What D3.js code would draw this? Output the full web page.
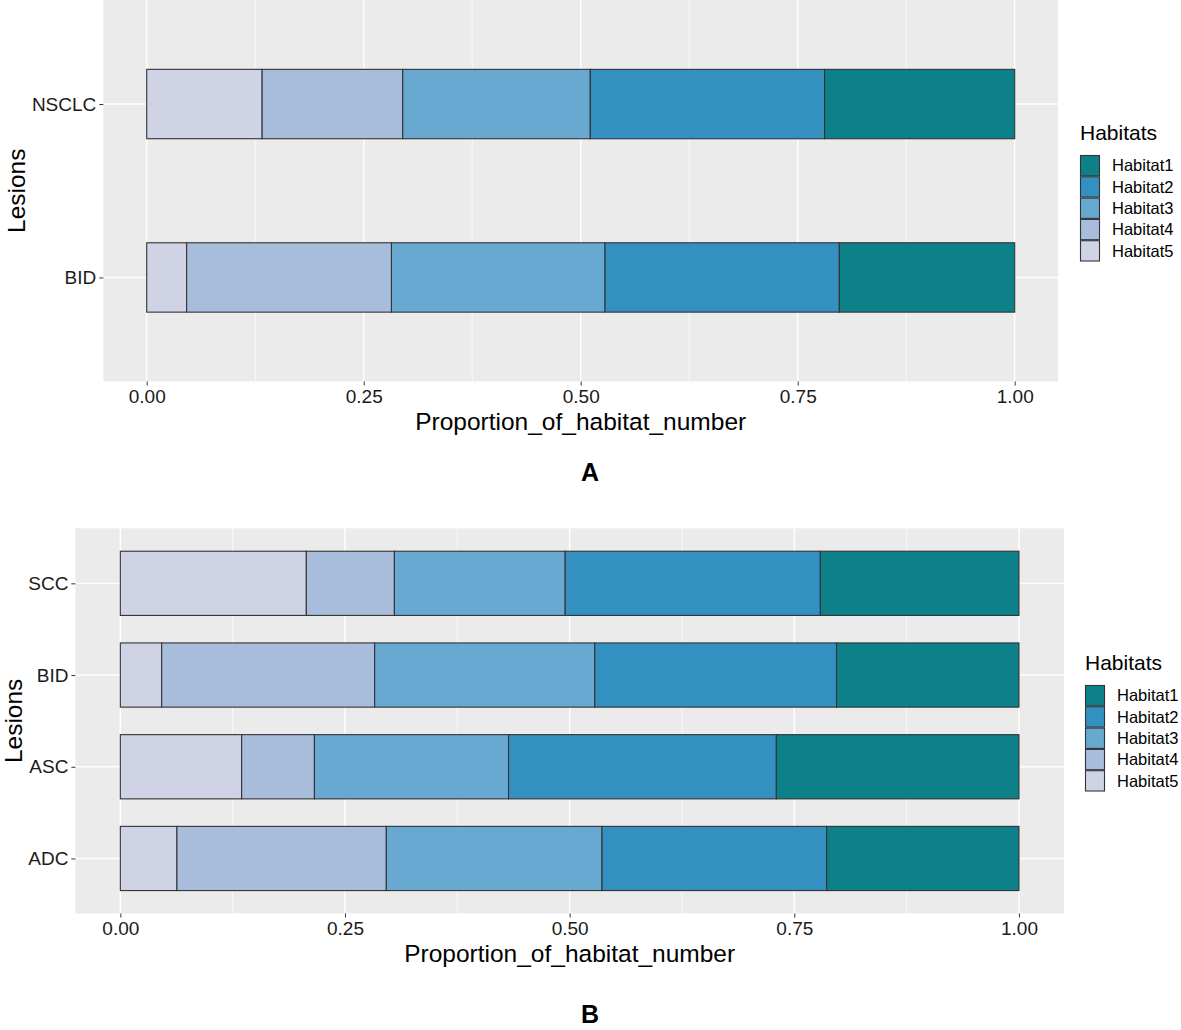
<!DOCTYPE html>
<html>
<head>
<meta charset="utf-8">
<script src="https://cdn.jsdelivr.net/npm/d3@7"></script>
<style>
  html, body { margin: 0; padding: 0; background: #fff; }
  svg { display: block; font-family: "Liberation Sans", Arial, sans-serif; }
</style>
</head>
<body>
<svg id="chart" width="1181" height="1030"></svg>
<script>
// ---------- DATA ----------
const habitats = ["Habitat1", "Habitat2", "Habitat3", "Habitat4", "Habitat5"];
const habitatColors = ["#0c8189", "#3490c1", "#67a9d0", "#a7bddb", "#d0d2e6"];
const xTicks = [0, 0.25, 0.5, 0.75, 1];
const xTickLabels = ["0.00", "0.25", "0.50", "0.75", "1.00"];

// Panel A (bottom -> top)
const lesionsA = ["BID", "NSCLC"];
const habitat1A = [0.202, 0.219];
const habitat2A = [0.270, 0.270];
const habitat3A = [0.246, 0.216];
const habitat4A = [0.236, 0.162];
const habitat5A = [0.046, 0.133];

// Panel B (bottom -> top)
const lesionsB = ["ADC", "ASC", "BID", "SCC"];
const habitat1B = [0.214, 0.270, 0.203, 0.221];
const habitat2B = [0.250, 0.298, 0.269, 0.284];
const habitat3B = [0.240, 0.216, 0.245, 0.190];
const habitat4B = [0.233, 0.081, 0.237, 0.098];
const habitat5B = [0.063, 0.135, 0.046, 0.207];

function buildRows(lesions, h1, h2, h3, h4, h5) {
  return lesions.map((l, i) => ({
    lesion: l, Habitat1: h1[i], Habitat2: h2[i], Habitat3: h3[i], Habitat4: h4[i], Habitat5: h5[i]
  }));
}
const rowsA = buildRows(lesionsA, habitat1A, habitat2A, habitat3A, habitat4A, habitat5A);
const rowsB = buildRows(lesionsB, habitat1B, habitat2B, habitat3B, habitat4B, habitat5B);

const svg = d3.select("#chart");
const color = d3.scaleOrdinal().domain(habitats).range(habitatColors);

function drawPanel(cfg) {
  const g = svg.append("g");
  const x = d3.scaleLinear().domain([-0.05, 1.05]).range([cfg.left, cfg.right]);
  const y = d3.scalePoint().domain(cfg.rows.map(d => d.lesion).reverse())
    .range([cfg.top, cfg.bottom]).padding(0.6);
  const barH = y.step() * cfg.barWidth;

  // background
  g.append("rect").attr("x", cfg.left).attr("y", cfg.top)
    .attr("width", cfg.right - cfg.left).attr("height", cfg.bottom - cfg.top)
    .attr("fill", "#ebebeb");

  // minor grid
  const minor = [0.125, 0.375, 0.625, 0.875];
  g.selectAll(".minor").data(minor).enter().append("line")
    .attr("x1", d => x(d)).attr("x2", d => x(d))
    .attr("y1", cfg.top).attr("y2", cfg.bottom)
    .attr("stroke", "#ffffff").attr("stroke-width", 0.7);
  // major grid
  g.selectAll(".majorx").data(xTicks).enter().append("line")
    .attr("x1", d => x(d)).attr("x2", d => x(d))
    .attr("y1", cfg.top).attr("y2", cfg.bottom)
    .attr("stroke", "#ffffff").attr("stroke-width", 1.4);
  g.selectAll(".majory").data(y.domain()).enter().append("line")
    .attr("x1", cfg.left).attr("x2", cfg.right)
    .attr("y1", d => y(d)).attr("y2", d => y(d))
    .attr("stroke", "#ffffff").attr("stroke-width", 1.4);

  // stacked bars: Habitat5 at left ... Habitat1 at right
  const keys = habitats.slice().reverse();
  const stack = d3.stack().keys(keys)(cfg.rows);
  stack.forEach(layer => {
    g.selectAll(null).data(layer).enter().append("rect")
      .attr("x", d => x(d[0]))
      .attr("width", d => x(d[1]) - x(d[0]))
      .attr("y", d => y(d.data.lesion) - barH / 2)
      .attr("height", barH)
      .attr("fill", color(layer.key))
      .attr("stroke", "#333333")
      .attr("stroke-width", 1.1);
  });

  // x axis
  const xAxis = d3.axisBottom(x).tickValues(xTicks)
    .tickFormat((d, i) => xTickLabels[i]).tickSize(4).tickPadding(4.5);
  const ax = g.append("g").attr("transform", `translate(0,${cfg.bottom})`).call(xAxis);
  ax.select(".domain").remove();
  ax.selectAll("line").attr("stroke", "#333").attr("stroke-width", 1);
  ax.selectAll("text").attr("font-size", 19).attr("fill", "#1a1a1a")
    .attr("font-family", "Liberation Sans, Arial, sans-serif");

  // y axis
  const yAxis = d3.axisLeft(y).tickSize(4).tickPadding(3);
  const ay = g.append("g").attr("transform", `translate(${cfg.left},0)`).call(yAxis);
  ay.select(".domain").remove();
  ay.selectAll("line").attr("stroke", "#333").attr("stroke-width", 1);
  ay.selectAll("text").attr("font-size", 19).attr("fill", "#1a1a1a")
    .attr("font-family", "Liberation Sans, Arial, sans-serif");

  // axis titles
  g.append("text").attr("x", (cfg.left + cfg.right) / 2).attr("y", cfg.bottom + 48)
    .attr("text-anchor", "middle").attr("font-size", 24.5).attr("fill", "#000")
    .text("Proportion_of_habitat_number");
  g.append("text")
    .attr("transform", `translate(${cfg.yTitleX},${(cfg.top + cfg.bottom) / 2}) rotate(-90)`)
    .attr("text-anchor", "middle").attr("font-size", 24.5).attr("fill", "#000")
    .text("Lesions");

  // legend
  const lg = g.append("g");
  lg.append("text").attr("x", cfg.legendX).attr("y", cfg.legendY)
    .attr("font-size", 21).attr("fill", "#000").text("Habitats");
  const keyH = 21.3, keyW = 20, keyTop = cfg.legendY + 15;
  habitats.forEach((h, i) => {
    lg.append("rect").attr("x", cfg.legendX + 0.5).attr("y", keyTop + i * keyH + 0.5)
      .attr("width", keyW - 1).attr("height", keyH - 1)
      .attr("fill", color(h)).attr("stroke", "#333").attr("stroke-width", 1.1);
    lg.append("text").attr("x", cfg.legendX + keyW + 12)
      .attr("y", keyTop + i * keyH + keyH / 2)
      .attr("dy", "0.35em").attr("font-size", 16.5).attr("fill", "#000").text(h);
  });

  // panel letter
  g.append("text").attr("x", 590).attr("y", cfg.letterY)
    .attr("text-anchor", "middle").attr("font-size", 25).attr("font-weight", "bold")
    .attr("fill", "#000").text(cfg.letter);
}

drawPanel({
  rows: rowsA, left: 103.3, right: 1058.1, top: 0, bottom: 381.5,
  barWidth: 0.4, yTitleX: 25, legendX: 1080, legendY: 140, letter: "A", letterY: 481
});
drawPanel({
  rows: rowsB, left: 75.4, right: 1063.9, top: 528.3, bottom: 913.5,
  barWidth: 0.7, yTitleX: 22, legendX: 1085, legendY: 670, letter: "B", letterY: 1023
});
</script>
</body>
</html>
